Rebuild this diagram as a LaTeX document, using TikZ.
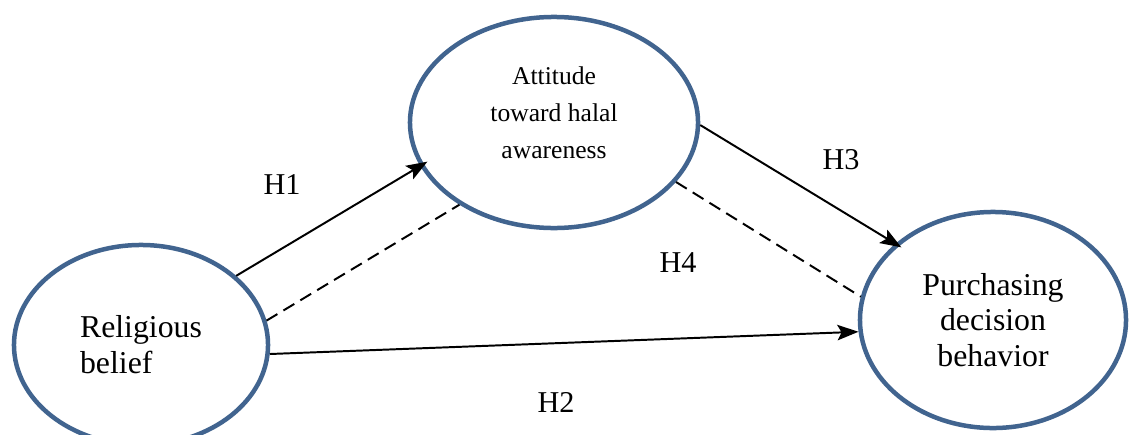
\documentclass[tikz,border=0pt]{standalone}
\usepackage{fontspec}
\setmainfont{Liberation Serif}
\usetikzlibrary{shapes.geometric,arrows.meta}
\definecolor{ringblue}{HTML}{41648F}
\tikzset{
  bigell/.style={ draw=ringblue, line width=3.2pt, ellipse, inner sep=0pt, align=center, font=\fontsize{22.6}{25.5}\selectfont }
}
\tikzset{
  smallell/.style={ bigell, font=\fontsize{18.2}{26.3}\selectfont }
}
\tikzset{
  hyp/.style={ font=\fontsize{21.5}{24}\selectfont }
}
\tikzset{
  solidarr/.style={ line width=1.4pt, -{Stealth[length=15pt,width=11pt,inset=3pt]} }
}
\tikzset{
  dashline/.style={ line width=1.4pt, dash pattern=on 9pt off 5pt }
}

\begin{document}
\begin{tikzpicture}[x=0.025cm, y=-0.025cm]
      \useasboundingbox (0,0) rectangle (1130,434);

      \node[bigell, align=left, minimum width=6.35cm, minimum height=5cm] (RB) at (141, 345) {Religious\\belief};
      \node[smallell, minimum width=7.2cm, minimum height=5.275cm] (ATT) at (554, 122.5) {Attitude\\toward halal\\awareness\\[-12pt]};
      \node[bigell, minimum width=6.65cm, minimum height=5.4cm] (PDB) at (993, 320) {Purchasing\\decision\\behavior};

      \node[hyp] (H1) at (282, 185) {H1};
      \node[hyp] (H2) at (556, 402) {H2};
      \node[hyp] (H3) at (841, 160) {H3};
      \node[hyp] (H4) at (678, 263) {H4};

      \draw[solidarr, shorten >=-6pt] (RB.36) -- (ATT.198.5);
      \draw[dashline] (RB.11) -- (ATT.221);
      \draw[solidarr] (RB.-4.4) -- (PDB.185.7);
      \draw[solidarr, shorten >=-5pt] (ATT.-1) -- (PDB.142);
      \draw[dashline] (ATT.-26) -- (PDB.170.3);
    \end{tikzpicture}
\end{document}
